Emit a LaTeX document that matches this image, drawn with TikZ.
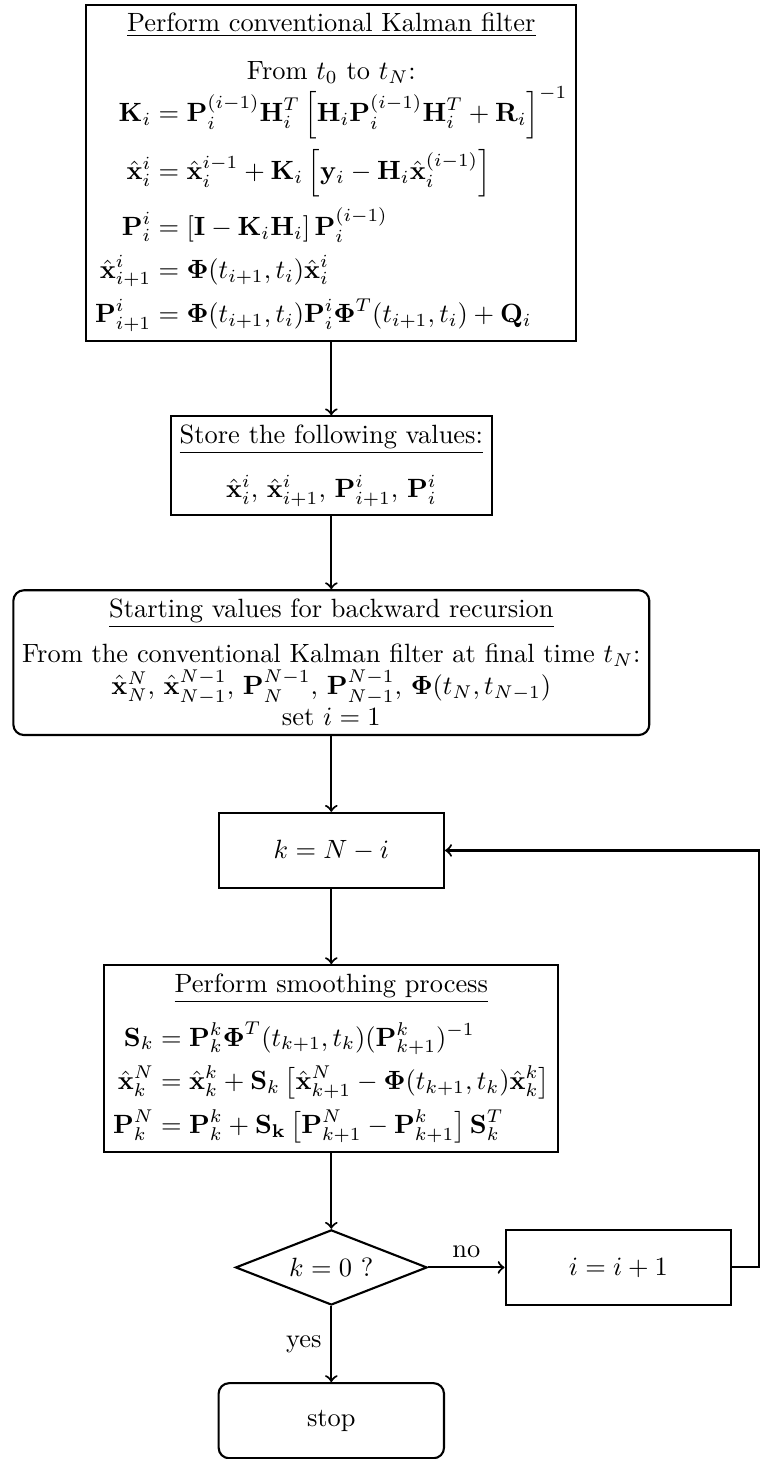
\documentclass[tikz,border=0pt]{standalone}
\usepackage{amsmath}
\usepackage{tikz}
\usetikzlibrary{shapes.geometric}

\begin{document}
\begin{tikzpicture}[
      thick,
      box/.style={draw,align=center},
      rbox/.style={box,rounded corners},
      small/.style={box,minimum width=3cm,minimum height=1cm},
      test/.style={draw,diamond,aspect=2.5,inner sep=0pt,minimum width=2.55cm,minimum height=1cm}
]
\useasboundingbox (0,0) rectangle (10.12,-19.42);
% forward pass
\node[box] (kalman) at (4.41,-2.30) {\underline{Perform conventional Kalman filter}\\[6pt]
From $t_0$ to $t_N$:\\
$\begin{aligned}
\mathbf{K}_i &= \mathbf{P}_i^{(i-1)}\mathbf{H}_i^T \left[\mathbf{H}_i\mathbf{P}_i^{(i-1)}\mathbf{H}_i^T + \mathbf{R}_i\right]^{-1}\\
\hat{\mathbf{x}}_i^i &= \hat{\mathbf{x}}_i^{i-1} + \mathbf{K}_i \left[\mathbf{y}_i - \mathbf{H}_i\hat{\mathbf{x}}_i^{(i-1)}\right]\\
\mathbf{P}_i^i &= \left[\mathbf{I} - \mathbf{K}_i\mathbf{H}_i\right]\mathbf{P}_i^{(i-1)}\\
\hat{\mathbf{x}}_{i+1}^i &= \boldsymbol{\Phi}(t_{i+1},t_i)\hat{\mathbf{x}}_i^i\\
\mathbf{P}_{i+1}^i &= \boldsymbol{\Phi}(t_{i+1},t_i)\mathbf{P}_i^i\boldsymbol{\Phi}^T(t_{i+1},t_i) + \mathbf{Q}_i
\end{aligned}$};
\node[box] (store) at (4.41,-6.20) {\underline{Store the following values:}\\[7pt]
$\hat{\mathbf{x}}_i^i$, $\hat{\mathbf{x}}_{i+1}^i$, $\mathbf{P}_{i+1}^i$, $\mathbf{P}_i^i$};
\node[rbox] (start) at (4.41,-8.82) {\underline{Starting values for backward recursion}\\[5pt]
From the conventional Kalman filter at final time $t_N$:\\
$\hat{\mathbf{x}}_N^N$, $\hat{\mathbf{x}}_{N-1}^{N-1}$, $\mathbf{P}_N^{N-1}$, $\mathbf{P}_{N-1}^{N-1}$, $\boldsymbol{\Phi}(t_N,t_{N-1})$\\
set $i=1$};
% backward pass
\node[small] (kstep) at (4.41,-11.32) {$k=N-i$};
\node[box] (smooth) at (4.41,-14.09) {\underline{Perform smoothing process}\\[6pt]
$\begin{aligned}
\mathbf{S}_k &= \mathbf{P}_k^k\boldsymbol{\Phi}^T(t_{k+1},t_k)(\mathbf{P}_{k+1}^k)^{-1}\\
\hat{\mathbf{x}}_k^N &= \hat{\mathbf{x}}_k^k + \mathbf{S}_k \left[\hat{\mathbf{x}}_{k+1}^N - \boldsymbol{\Phi}(t_{k+1},t_k)\hat{\mathbf{x}}_k^k\right]\\
\mathbf{P}_k^N &= \mathbf{P}_k^k + \mathbf{S}_\mathbf{k} \left[\mathbf{P}_{k+1}^N - \mathbf{P}_{k+1}^k\right]\mathbf{S}_k^T
\end{aligned}$};
\node[test] (check) at (4.41,-16.87) {$k=0$ ?};
\node[small] (incr) at (8.23,-16.87) {$i=i+1$};
\node[small,rounded corners] (stop) at (4.41,-18.91) {stop};
\coordinate (loop) at (10.10,-16.87);
\draw[->] (kalman) -- (store);
\draw[->] (store) -- (start);
\draw[->] (start) -- (kstep);
\draw[->] (kstep) -- (smooth);
\draw[->] (smooth) -- (check);
\draw[->] (check) -- node[above] {no} (incr);
\draw[->] (check) -- node[left] {yes} (stop);
\draw[->] (incr) -- (loop) |- (kstep);
\end{tikzpicture}
\end{document}
